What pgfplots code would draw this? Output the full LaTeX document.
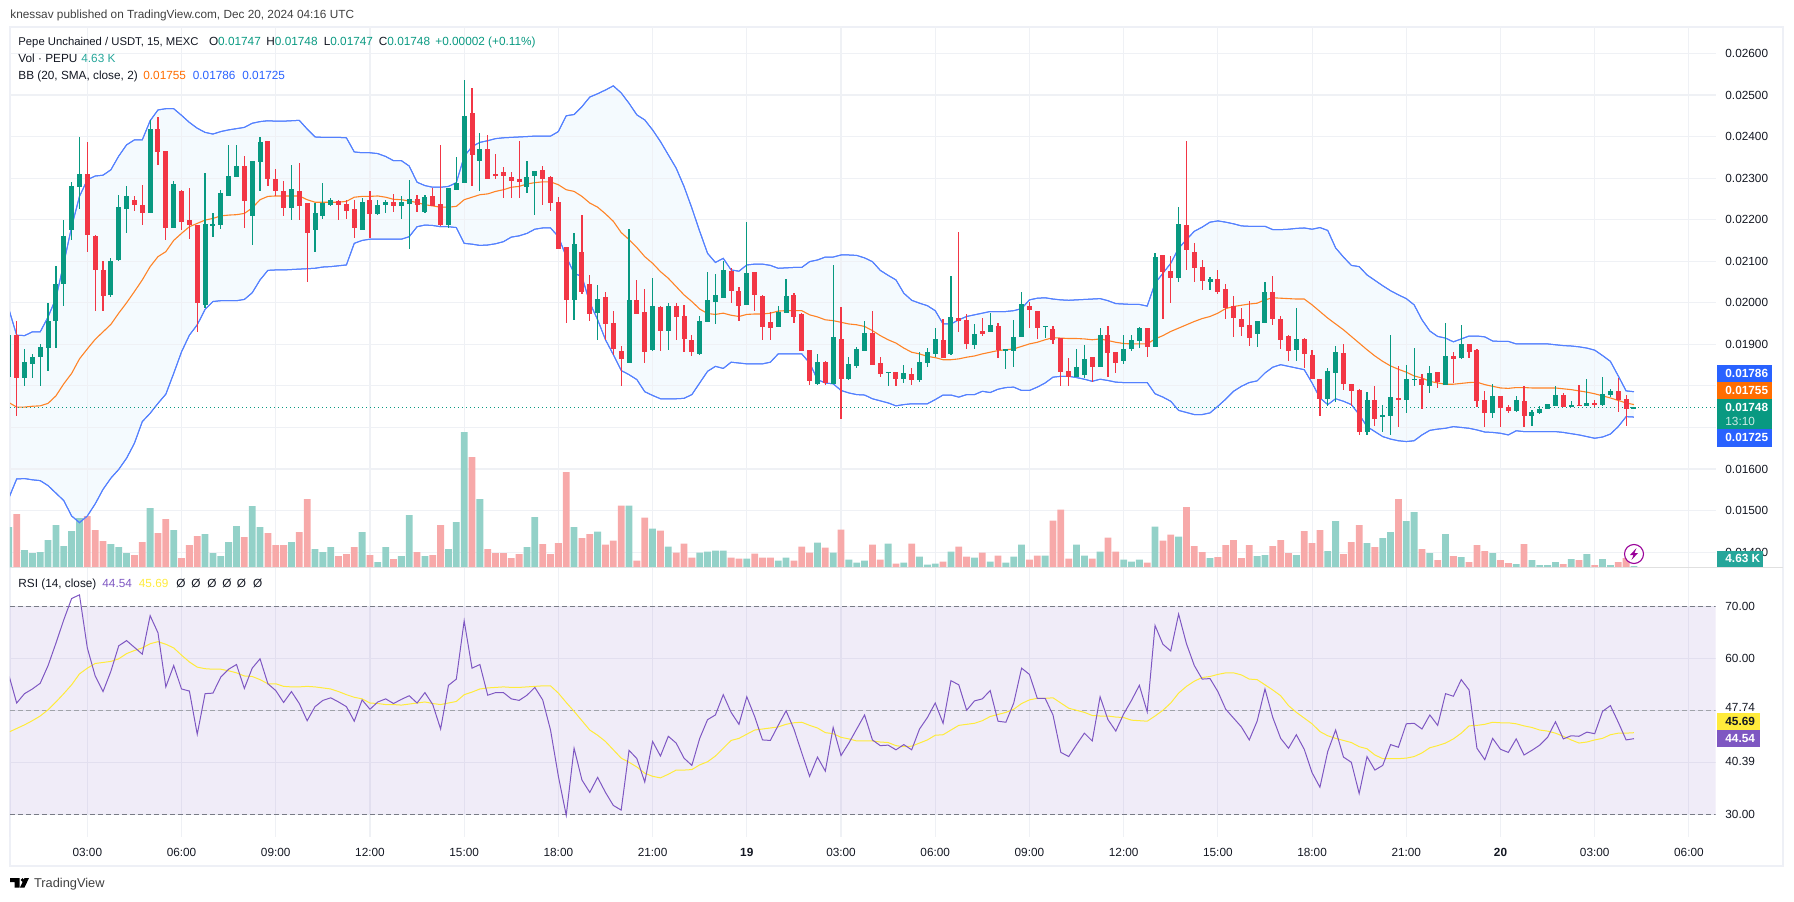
\documentclass[border=0pt]{standalone}
\usepackage{fontspec}
\setmainfont{Liberation Sans}
\usepackage{pgfplots}
\pgfplotsset{compat=1.18}
\usepackage{pgfplotstable}
\usepgfplotslibrary{fillbetween}
\definecolor{up}{HTML}{089981}
\definecolor{dn}{HTML}{F23645}
\definecolor{volup}{HTML}{93D1C8}
\definecolor{voldn}{HTML}{F7A9A9}
\definecolor{bb}{HTML}{2962FF}
\definecolor{bbfill}{HTML}{F4FAFE}
\definecolor{mid}{HTML}{FF6D00}
\definecolor{rsi}{HTML}{7E57C2}
\definecolor{rsima}{HTML}{FFEB3B}
\definecolor{gridc}{HTML}{EFF1F5}
\definecolor{framec}{HTML}{EEF0F6}
\definecolor{ink}{HTML}{131722}
\definecolor{bandc}{HTML}{787B86}
\definecolor{teal}{HTML}{26A69A}
% price columns are in units of 0.00001
\pgfplotstableread{
n o h l c v u m d r a
-10 1822 1922 1822 1922 121 1985 1760 1530 56.8 45.8
-9 1922 1956 1728 1820 160 1922 1749 1576 51.4 46.5
-8 1820 1889 1800 1857 52 1921 1749 1577 53.2 47.2
-7 1853 1877 1820 1870 43 1930 1751 1574 54.1 48
-6 1870 1901 1800 1894 46 1930 1752 1572 55.2 48.9
-5 1892 1999 1837 1956 82 1966 1758 1560 58.6 50.1
-4 1955 2089 1892 2045 127 2011 1776 1542 62.9 51.6
-3 2045 2199 1993 2161 64 2095 1805 1524 67.4 53.2
-2 2174 2290 2150 2282 109 2183 1830 1487 71.5 54.9
-1 2278 2400 2225 2311 148 2256 1865 1471 72.2 57
0 2309 2388 2122 2162 154 2296 1889 1487 62 58.1
1 2160 2162 1981 2078 112 2305 1912 1516 56.6 59
2 2078 2100 1981 2016 79 2307 1930 1551 53.6 59.2
3 2019 2107 2015 2100 70 2320 1948 1578 57.5 59.4
4 2102 2260 2100 2231 61 2353 1975 1599 62.4 59.9
5 2226 2282 2168 2258 43 2380 2000 1626 63.4 60.9
6 2248 2258 2220 2236 37 2392 2027 1662 62.1 61.5
7 2236 2284 2186 2217 76 2392 2055 1714 60.8 62
8 2217 2441 2216 2417 178 2438 2087 1734 68.2 62.8
9 2418 2446 2332 2364 103 2464 2111 1758 64.9 63.2
10 2366 2366 2150 2181 145 2467 2123 1780 54.5 62.7
11 2181 2294 2181 2287 112 2467 2150 1830 58.6 62
12 2268 2271 2174 2195 28 2451 2167 1882 54.1 60.6
13 2200 2275 2153 2188 67 2434 2183 1922 53.7 59.3
14 2188 2188 1930 2000 94 2420 2191 1947 45.4 58.3
15 1995 2313 1987 2190 100 2410 2199 1984 53.2 58
16 2184 2216 2158 2190 43 2406 2203 2003 53.3 57.9
17 2188 2272 2178 2263 34 2412 2209 2005 56.4 57.9
18 2258 2379 2258 2306 76 2416 2211 2005 57.9 57.6
19 2302 2379 2302 2330 124 2419 2212 2005 58.8 57.2
20 2330 2353 2179 2244 91 2422 2215 2008 54.2 56.6
21 2210 2342 2139 2340 184 2432 2228 2024 58.1 56.5
22 2338 2400 2269 2386 121 2436 2248 2055 59.9 55.9
23 2390 2390 2282 2297 103 2438 2256 2078 55.1 55.1
24 2299 2321 2258 2268 67 2437 2257 2079 53.8 55.1
25 2270 2293 2208 2227 67 2437 2257 2079 51.5 54.6
26 2227 2331 2200 2273 76 2438 2257 2080 53.6 54.5
27 2270 2337 2200 2232 106 2439 2257 2081 51.3 54.5
28 2241 2241 2049 2169 205 2418 2248 2082 48 54.6
29 2174 2239 2121 2217 55 2399 2242 2083 50.7 54.5
30 2210 2289 2202 2239 46 2398 2242 2086 51.9 54.3
31 2236 2251 2232 2248 61 2398 2242 2087 52.4 54.1
32 2245 2248 2200 2236 34 2398 2242 2089 51.6 53.6
33 2238 2248 2202 2221 40 2397 2244 2091 50.7 53
34 2226 2248 2157 2181 61 2363 2254 2143 47.9 52.5
35 2176 2251 2176 2243 106 2361 2256 2150 52 52.2
36 2248 2268 2157 2214 37 2361 2256 2153 50.2 51.4
37 2214 2248 2212 2236 16 2359 2257 2153 51.6 51.3
38 2236 2248 2216 2243 61 2352 2254 2153 52.2 51.1
39 2243 2262 2219 2232 25 2342 2249 2153 51.3 51.1
40 2232 2256 2202 2243 34 2342 2248 2153 52.1 51
41 2238 2295 2130 2250 157 2329 2245 2159 52.8 51.2
42 2250 2260 2219 2236 46 2290 2241 2183 51.4 51.4
43 2219 2260 2216 2255 34 2282 2236 2187 53.4 51.6
44 2258 2277 2232 2234 37 2278 2233 2186 51.1 51.3
45 2238 2379 2184 2188 127 2278 2230 2183 46.4 51.1
46 2188 2275 2181 2275 55 2280 2230 2183 54.8 51.4
47 2272 2350 2272 2289 136 2289 2232 2181 56 51.7
48 2288 2535 2288 2449 406 2352 2248 2143 67.2 53
49 2456 2518 2280 2355 331 2376 2254 2141 58.1 53.5
50 2340 2408 2270 2369 205 2386 2260 2138 58.8 54.1
51 2369 2403 2299 2299 55 2390 2262 2139 52.9 54.3
52 2311 2359 2299 2306 43 2395 2268 2142 53.4 54.4
53 2314 2326 2251 2306 43 2397 2272 2147 53.4 54.5
54 2302 2314 2251 2294 28 2398 2278 2158 52.2 54.4
55 2297 2390 2251 2290 40 2399 2280 2161 51.9 54.4
56 2278 2341 2265 2302 61 2400 2286 2167 52.9 54.5
57 2304 2318 2212 2318 151 2401 2289 2177 54.4 54.6
58 2320 2328 2236 2297 70 2401 2291 2180 52 54.7
59 2302 2304 2221 2241 40 2401 2291 2180 46.2 54.7
60 2243 2255 2130 2130 73 2412 2284 2159 37.3 53.3
61 2134 2134 1951 2007 286 2450 2272 2111 29.8 51.5
62 2007 2167 1959 2142 121 2453 2268 2071 42.7 49.8
63 2122 2211 2020 2027 88 2472 2256 2063 36.6 48
64 2046 2067 1957 1973 100 2495 2240 2000 34.2 46.2
65 1975 2043 1911 2010 108 2503 2230 1959 37.1 45.2
66 2015 2025 1911 1950 69 2512 2214 1911 34.2 44
67 1952 1981 1875 1889 81 2522 2196 1875 31.7 42.4
68 1884 1895 1799 1865 186 2505 2169 1837 30.8 40.8
69 1856 2178 1856 2007 186 2480 2152 1827 42.3 40
70 2007 2055 1974 1974 21 2452 2133 1815 40.7 39.1
71 1978 2034 1856 1882 150 2440 2111 1786 36.2 37.9
72 1887 2060 1885 1993 117 2416 2095 1777 44 37.3
73 1990 1993 1884 1932 111 2388 2075 1769 41.2 37
74 1932 2000 1887 1993 63 2356 2059 1769 45 37.7
75 1993 2000 1911 1966 45 2324 2039 1769 43.7 38.5
76 1969 1995 1882 1913 72 2280 2019 1770 40.8 38.5
77 1911 1923 1873 1882 30 2228 2003 1779 39.4 38.6
78 1877 1969 1875 1957 45 2172 1985 1807 44.6 39.5
79 1954 2073 1954 2007 48 2119 1974 1835 48.2 40.1
80 2002 2070 1950 2019 51 2097 1972 1847 49.1 41.2
81 2012 2100 2012 2079 51 2107 1975 1842 53 42.7
82 2077 2083 2000 2029 30 2079 1970 1857 49.6 44.2
83 2029 2038 1957 1993 27 2076 1967 1855 47.3 44.6
84 1995 2195 1995 2072 27 2091 1972 1853 52.6 45.4
85 2074 2074 1981 2019 42 2093 1973 1853 48.8 46.2
86 2017 2019 1911 1942 30 2093 1973 1853 44.3 46.4
87 1954 1978 1911 1940 30 2090 1975 1857 44.2 46.6
88 1942 1993 1942 1978 21 2083 1980 1877 47.1 46.8
89 1976 2058 1976 2017 30 2084 1981 1877 49.9 47.3
90 2019 2024 1952 1966 21 2085 1981 1877 46.4 47.6
91 1974 1975 1884 1884 63 2085 1981 1877 41.8 47.7
92 1887 1887 1802 1812 45 2099 1971 1855 37.3 47.1
93 1805 1877 1802 1858 75 2103 1966 1815 41 46.6
94 1858 1860 1802 1807 60 2110 1959 1807 38.3 45.7
95 1805 2091 1805 1918 45 2110 1957 1805 46.7 45.5
96 1913 1990 1721 1817 114 2115 1953 1789 41.3 44.8
97 1817 1870 1815 1853 24 2115 1949 1783 43.7 44.5
98 1848 1894 1842 1889 15 2114 1947 1779 46.4 44.1
99 1884 1956 1884 1927 21 2108 1943 1778 49.1 44.1
100 1927 1981 1850 1850 69 2099 1933 1769 44.3 44.1
101 1855 1870 1822 1829 24 2078 1921 1764 43.2 43.9
102 1831 1834 1800 1834 72 2066 1911 1759 43.3 43.8
103 1834 1834 1800 1817 12 2055 1903 1752 42.4 43.2
104 1817 1851 1806 1831 15 2023 1891 1755 43.4 43
105 1829 1844 1802 1815 72 2006 1881 1757 42.4 43.1
106 1815 1882 1810 1858 33 1999 1877 1757 46.4 43.7
107 1856 1892 1846 1882 9 1993 1871 1757 48.6 44.3
108 1877 1940 1870 1913 12 1981 1868 1767 51.4 45.2
109 1911 1961 1866 1867 18 1949 1863 1778 47.5 45.3
110 1877 2065 1875 1966 48 1949 1863 1778 55.7 46.2
111 1964 2171 1930 1957 63 1959 1865 1773 54.9 47.1
112 1959 1974 1889 1901 33 1967 1869 1779 50 47.3
113 1899 1949 1889 1925 30 1971 1872 1779 51.8 47.5
114 1932 1964 1920 1925 45 1975 1877 1787 52.2 48
115 1930 1976 1930 1947 18 1979 1881 1784 53.8 48.8
116 1945 1952 1867 1887 36 1979 1885 1792 47.9 49.2
117 1885 1889 1841 1888 15 1979 1887 1796 47.7 49.6
118 1884 1959 1846 1918 33 1981 1889 1797 51.4 50.2
119 1918 2026 1918 1998 69 1986 1895 1789 58.1 51.3
120 1993 2002 1940 1983 24 2007 1901 1789 56.9 52
121 1981 1981 1913 1940 36 2011 1905 1797 52.3 52.3
122 1942 1944 1916 1944 36 2012 1911 1807 52.3 52.3
123 1937 1945 1901 1911 141 2009 1916 1821 49.1 52.4
124 1915 1915 1800 1834 174 2007 1915 1823 41.9 51.4
125 1836 1868 1800 1822 27 2006 1914 1823 41.1 50.4
126 1822 1889 1822 1846 69 2007 1914 1820 43.4 50
127 1827 1899 1819 1865 36 2008 1913 1816 45.6 49.6
128 1870 1870 1810 1846 27 2009 1911 1811 44.1 49
129 1846 1940 1846 1923 48 2010 1913 1816 52.6 48.9
130 1923 1945 1822 1880 90 2005 1909 1813 48.2 48.9
131 1882 1882 1832 1856 48 1998 1905 1809 46 48.7
132 1860 1923 1853 1889 24 1997 1902 1808 49.3 48.6
133 1889 1923 1885 1911 18 1996 1901 1808 51.9 48.1
134 1908 1942 1892 1940 24 1996 1901 1808 54.8 48
135 1940 1940 1870 1894 15 1992 1901 1808 49.7 47.9
136 1894 2119 1894 2110 123 2047 1913 1781 66.3 48.9
137 2115 2115 1961 2074 81 2071 1921 1773 62.7 50
138 2077 2113 2000 2060 99 2095 1931 1763 61.4 51.4
139 2060 2231 2051 2190 93 2131 1939 1741 68.5 53.3
140 2188 2390 2079 2128 181 2152 1947 1736 62.8 54.6
141 2123 2144 2051 2084 64 2172 1955 1731 58.6 55.6
142 2087 2103 2031 2053 46 2182 1962 1731 56 56.3
143 2051 2063 2031 2058 28 2194 1967 1735 56.1 56.5
144 2058 2079 2022 2026 31 2197 1975 1751 53.6 56.9
145 2034 2046 1961 1988 67 2194 1986 1768 50.2 57.2
146 1993 2017 1918 1964 82 2190 1991 1787 48.5 57.2
147 1961 1988 1921 1942 28 2185 1994 1799 46.8 56.8
148 1947 2005 1897 1916 67 2184 1997 1808 44.3 56
149 1925 1957 1894 1957 34 2184 1999 1812 47.9 55.9
150 1952 2051 1952 2026 37 2184 2007 1831 54.1 54.9
151 2026 2065 1947 1961 64 2176 2012 1845 48.6 53.9
152 1961 1969 1889 1911 82 2176 2011 1851 44.6 52.8
153 1921 1923 1860 1885 43 2177 2010 1847 42.7 50.9
154 1887 1988 1860 1913 37 2179 2009 1843 45.3 49.6
155 1913 1916 1844 1877 109 2180 2009 1839 42.5 48.5
156 1875 1887 1817 1817 73 2177 1995 1807 38 47.4
157 1817 1817 1727 1769 112 2181 1979 1771 35.2 45.9
158 1769 1844 1752 1836 49 2174 1963 1755 42.1 45.1
159 1832 1897 1762 1882 139 2132 1949 1769 46.2 44.6
160 1880 1901 1791 1805 40 2110 1935 1763 41 44.2
161 1805 1805 1752 1788 76 2090 1919 1755 40 43.8
162 1791 1793 1682 1690 127 2087 1903 1731 34 43
163 1690 1786 1682 1767 73 2067 1887 1702 41.1 42.6
164 1767 1800 1704 1721 61 2054 1872 1690 38.5 41.4
165 1724 1755 1690 1731 88 2041 1859 1678 39.4 40.7
166 1728 1923 1682 1774 106 2029 1848 1672 43.4 40.7
167 1771 1848 1702 1767 205 2019 1840 1668 42.9 40.7
168 1767 1851 1735 1817 139 2010 1833 1666 47.4 40.8
169 1816 1892 1800 1817 166 1995 1824 1668 47.5 41.1
170 1817 1829 1745 1803 55 1959 1819 1682 46.4 41.8
171 1800 1848 1783 1832 43 1932 1811 1693 49.1 42.8
172 1834 1834 1795 1810 22 1919 1807 1696 47.1 43.2
173 1803 1952 1803 1872 100 1915 1804 1698 53.2 43.7
174 1872 1882 1808 1865 34 1906 1804 1702 52.7 44.5
175 1868 1947 1865 1901 31 1913 1806 1700 55.9 45.6
176 1901 1901 1868 1882 16 1920 1808 1698 53.9 47
177 1887 1889 1749 1764 67 1920 1809 1694 42.7 47.1
178 1767 1788 1702 1735 49 1918 1803 1689 40.5 47.3
179 1735 1805 1723 1776 43 1908 1799 1688 44.6 47.7
180 1776 1776 1702 1747 22 1907 1795 1686 42.5 47.6
181 1750 1755 1735 1740 13 1907 1794 1682 41.9 47.6
182 1740 1776 1738 1767 10 1901 1796 1692 44.5 47.4
183 1764 1800 1702 1728 70 1901 1796 1690 41.4 47
184 1728 1743 1704 1738 22 1901 1795 1690 42.3 46.7
185 1735 1752 1733 1745 7 1901 1795 1690 43.3 46.2
186 1745 1757 1745 1757 7 1901 1795 1690 44.8 46
187 1752 1800 1752 1779 16 1899 1795 1690 47.8 45.6
188 1779 1784 1749 1749 10 1897 1793 1688 44.5 45
189 1749 1764 1749 1755 25 1896 1791 1685 45.1 44.3
190 1755 1803 1752 1752 22 1894 1788 1682 45 43.7
191 1752 1817 1752 1759 40 1891 1785 1678 45.8 43.9
192 1759 1767 1749 1755 7 1886 1781 1674 45.5 44.3
193 1755 1822 1752 1781 25 1873 1776 1677 49.8 44.6
194 1779 1793 1774 1788 7 1859 1771 1684 50.9 45.3
195 1788 1819 1738 1767 16 1824 1765 1702 47.7 45.6
196 1769 1779 1704 1745 28 1788 1759 1726 44.3 45.6
197 1747 1748 1747 1748 4 1786 1755 1725 44.54 45.69
}\data
\pgfplotsset{
  pane/.style={scale only axis,width=852.8pt,xmin=-9.85,xmax=207.4,clip=true},
  toppane/.style={pane,at={(5pt,166.75pt)},anchor=south west,height=270.75pt},
  fs/.style={font=\fontsize{5.9}{7}\selectfont},
}
\newcommand{\candles}[2]{% test, wick/body colour
  \addplot[draw=none,mark=none,forget plot,unbounded coords=discard,
    error bars/.cd,y dir=both,y explicit,error mark=none,
    error bar style={draw=#2,line width=0.6pt}]
    table[x=n,y expr={#1 ? (\thisrow{h}+\thisrow{l})/2 : nan},
      y error plus expr={(\thisrow{h}-\thisrow{l})/2},
      y error minus expr={(\thisrow{h}-\thisrow{l})/2}]{\data};
  \addplot[draw=none,mark=none,forget plot,unbounded coords=discard,
    error bars/.cd,y dir=both,y explicit,error mark=none,
    error bar style={draw=#2,line width=2.5pt}]
    table[x=n,y expr={#1 ? (\thisrow{o}+\thisrow{c})/2 : nan},
      y error plus expr={max(abs(\thisrow{c}-\thisrow{o})/2,1.0)},
      y error minus expr={max(abs(\thisrow{c}-\thisrow{o})/2,1.0)}]{\data};
}
\newcommand{\T}[4][ink]{\node[anchor=base west,inner sep=0pt,text=#1,font=\fontsize{5.9}{7}\selectfont] at (#2,#3) {#4};}
\newcommand{\tagbox}[7]{% x1 y1 x2 y2 fill textcolour text
  \fill[#5] (#1,#2) rectangle (#3,#4);
  \node[anchor=base west,inner sep=0pt,text=#6,font=\fontsize{5.9}{7}\selectfont\bfseries] at (1725,{(#2+#4)/2+4}) {#7};}
\begin{document}
\begin{tikzpicture}
\path (0,0) rectangle (897pt,450.5pt);
% outer frame
\begin{scope}[x=0.5pt,y=-0.5pt,shift={(0pt,450.5pt)}]
\draw[framec,line width=1pt] (10,27) rectangle (1783,866);
\end{scope}
% price grid and labels (0.01800 and 0.01700 lie behind the price tags, as in the reference)
\begin{axis}[toppane,ymin=1363,ymax=2666,axis line style={draw=none},
  xtick={0,12,...,204},xticklabels={},
  ytick={1400,1500,1600,1700,1800,1900,2000,2100,2200,2300,2400,2500,2600},
  yticklabels={0.01400,0.01500,0.01600,{},{},0.01900,0.02000,0.02100,0.02200,0.02300,0.02400,0.02500,0.02600},
  yticklabel pos=right,major tick length=0pt,
  yticklabel style={fs,text=ink,anchor=west,inner sep=0pt,xshift=4.7pt},
  grid=major,grid style={gridc,line width=0.55pt}]
\end{axis}
% volume
\begin{axis}[toppane,ymin=0,ymax=1624.5,axis lines=none]
\addplot[ybar,bar width=3.4pt,bar shift=0pt,fill=volup,draw=none,unbounded coords=discard]
  table[x=n,y expr={\thisrow{c}>=\thisrow{o} ? \thisrow{v} : nan}]{\data};
\addplot[ybar,bar width=3.4pt,bar shift=0pt,fill=voldn,draw=none,unbounded coords=discard]
  table[x=n,y expr={\thisrow{c}<\thisrow{o} ? \thisrow{v} : nan}]{\data};
\end{axis}
% price
\begin{axis}[toppane,ymin=1363,ymax=2666,axis lines=none]
\addplot[name path=U,bb!80!white,line width=0.5pt] table[x=n,y=u]{\data};
\addplot[name path=L,bb!80!white,line width=0.5pt] table[x=n,y=d]{\data};
\addplot[bbfill] fill between[of=U and L];
\addplot[bb!80!white,line width=0.5pt] table[x=n,y=u]{\data};
\addplot[bb!80!white,line width=0.5pt] table[x=n,y=d]{\data};
\addplot[mid!85!white,line width=0.55pt] table[x=n,y=m]{\data};
\addplot[up,dotted,line width=0.6pt,dash pattern=on 0.7pt off 1.3pt] coordinates {(-9.85,1748) (207.4,1748)};
\candles{\thisrow{c}>=\thisrow{o}}{up}
\candles{\thisrow{c}<\thisrow{o}}{dn}
\end{axis}
% RSI
\begin{axis}[pane,at={(5pt,32pt)},anchor=south west,height=134.75pt,
  ymin=25.63,ymax=77.46,axis line style={draw=none},
  xtick={0,12,...,204},
  xticklabels={03:00,06:00,09:00,12:00,15:00,18:00,21:00,\textbf{19},03:00,06:00,09:00,12:00,15:00,18:00,21:00,\textbf{20},03:00,06:00},
  xticklabel style={fs,text=ink,inner sep=0pt,yshift=-5.5pt},
  ytick={30,40,50,60,70},
  yticklabels={30.00,\raisebox{0.8pt}{40.39},\raisebox{2.8pt}{47.74},60.00,70.00},
  yticklabel pos=right,major tick length=0pt,
  yticklabel style={fs,text=ink,anchor=west,inner sep=0pt,xshift=4.7pt},
  grid=major,grid style={gridc,line width=0.55pt}]
\addplot[fill=rsi,fill opacity=0.115,draw=none] coordinates {(-9.85,30) (207.4,30) (207.4,70) (-9.85,70)} \closedcycle;
\addplot[bandc,line width=0.5pt,dash pattern=on 2.3pt off 1.7pt] coordinates {(-9.85,70) (207.4,70)};
\addplot[bandc!70!white,line width=0.5pt,dash pattern=on 2.3pt off 1.7pt] coordinates {(-9.85,50) (207.4,50)};
\addplot[bandc,line width=0.5pt,dash pattern=on 2.3pt off 1.7pt] coordinates {(-9.85,30) (207.4,30)};
\addplot[rsima,line width=0.5pt] table[x=n,y=a]{\data};
\addplot[rsi,line width=0.5pt] table[x=n,y=r]{\data};
\end{axis}
% overlays in reference pixel coordinates
\begin{scope}[x=0.5pt,y=-0.5pt,shift={(0pt,450.5pt)}]
\draw[black!12,line width=0.6pt] (10,567.8) -- (1783,567.8);
\T[black!75]{10}{19}{knessav published on TradingView.com, Dec 20, 2024 04:16 UTC}
\T{18}{46}{\fontsize{5.65}{7}\selectfont Pepe Unchained / USDT, 15, MEXC}
\T{208.6}{46}{O\textcolor{up}{0.01747}}
\T{266}{46}{H\textcolor{up}{0.01748}}
\T{323.4}{46}{L\textcolor{up}{0.01747}}
\T{378.5}{46}{C\textcolor{up}{0.01748}}
\T[up]{435}{46}{+0.00002 (+0.11\%)}
\T{18}{63}{Vol · PEPU}
\T[teal]{81}{63}{4.63 K}
\T{18}{80}{BB (20, SMA, close, 2)}
\T[mid]{143}{80}{0.01755}
\T[bb]{192.5}{80}{0.01786}
\T[bb]{242}{80}{0.01725}
\T{18}{587}{RSI (14, close)}
\T[rsi]{102}{587}{44.54}
\T[rsima]{138.5}{587}{45.69}
\T{176}{587}{Ø}\T{191}{587}{Ø}\T{207}{587}{Ø}\T{222}{587}{Ø}\T{236.5}{587}{Ø}\T{252.6}{587}{Ø}
% price tags
\tagbox{1717}{365}{1772}{381.7}{bb}{white}{0.01786}
\tagbox{1717}{381.7}{1772}{399.3}{mid}{white}{0.01755}
\fill[up] (1717,399.3) rectangle (1772,429.3);
\node[anchor=base west,inner sep=0pt,text=white,font=\fontsize{5.9}{7}\selectfont\bfseries] at (1725,412) {0.01748};
\node[anchor=base west,inner sep=0pt,text=white!80!up,font=\fontsize{5.9}{7}\selectfont] at (1725,426) {13:10};
\tagbox{1717}{429.3}{1772}{446.7}{bb}{white}{0.01725}
\tagbox{1717}{550.7}{1763}{567}{teal}{white}{4.63 K}
\tagbox{1717}{713}{1759.5}{730}{rsima}{ink}{45.69}
\tagbox{1717}{730}{1759.5}{746.5}{rsi}{white}{44.54}
% alert icon
\draw[fill=white,draw=violet!80!magenta,line width=0.55pt] (1634,554) circle (9.5);
\fill[violet!80!magenta] (1636.5,548) -- (1630,555) -- (1633.5,555) -- (1631.5,560) -- (1638,553) -- (1634.5,553) -- cycle;
% logo
\fill[black] (10,878) -- (19.5,878) -- (19.5,887.5) -- (14.5,887.5) -- (14.5,882) -- (10,882) -- cycle;
\fill[black] (22.5,880) circle (1.9);
\fill[black] (20,887.5) -- (24.5,878) -- (29,878) -- (24.5,887.5) -- cycle;
\node[anchor=base west,inner sep=0pt,text=black!75,font=\fontsize{6.4}{7}\selectfont] at (33.7,887.5) {TradingView};
\end{scope}
\end{tikzpicture}
\end{document}
